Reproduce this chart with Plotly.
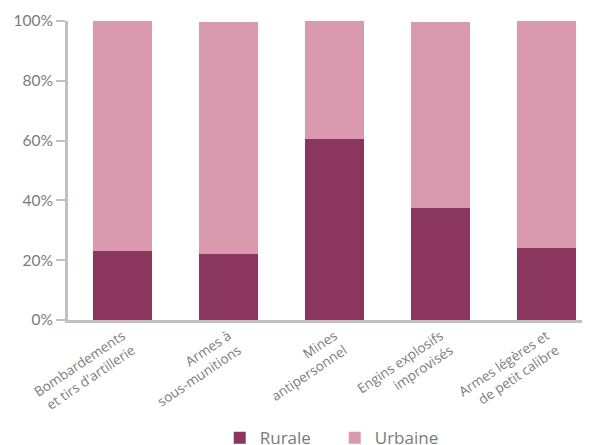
import plotly.graph_objects as go

categories = ["Bombardements<br>et tirs d'artillerie", "Armes à<br>sous-munitions",
              "Mines<br>antipersonnel", "Engins explosifs<br>improvisés",
              "Armes légères et<br>de petit calibre"]
rurale = [23.1, 22.1, 60.5, 37.5, 24.1]
urbaine = [76.9, 77.6, 39.5, 62.2, 75.9]
y_ticks = [0, 20, 40, 60, 80, 100]
y_tick_labels = ["0%", "20%", "40%", "60%", "80%", "100%"]

axis_grey = "#BEC3C1"
text_grey = "#7B7B7B"

fig = go.Figure()
fig.add_trace(go.Bar(x=categories, y=rurale, name="Rurale", marker_color="#8B365E",
                     marker_line_width=0))
fig.add_trace(go.Bar(x=categories, y=urbaine, name="Urbaine", marker_color="#D99AB0",
                     marker_line_width=0))

fig.update_layout(
    width=582, height=437,
    barmode="stack", bargap=0.443,
    margin=dict(l=60, r=0, t=13, b=125, autoexpand=False),
    plot_bgcolor="white", paper_bgcolor="white",
    font=dict(family="Open Sans", color=text_grey),
    showlegend=True,
    legend=dict(orientation="h", x=0.511, xanchor="center", y=-0.395, yanchor="middle",
                font=dict(size=17, color=text_grey), itemwidth=30,
                entrywidth=70, entrywidthmode="pixels",
                traceorder="normal"),
)
fig.update_xaxes(
    range=[-0.514, 4.41], showline=True, linecolor=axis_grey, linewidth=3,
    ticks="", tickangle=-34, tickfont=dict(size=13.5, color=text_grey),
    showgrid=False, zeroline=False, automargin=False,
)
fig.update_yaxes(
    range=[0, 100], tickvals=y_ticks, ticktext=y_tick_labels,
    showline=True, linecolor=axis_grey, linewidth=3,
    ticks="outside", ticklen=9, tickwidth=2, tickcolor=axis_grey,
    tickfont=dict(size=15.5, color=text_grey, family="Lato"),
    showgrid=False, zeroline=False, automargin=False,
)

fig.write_html("out.html")
